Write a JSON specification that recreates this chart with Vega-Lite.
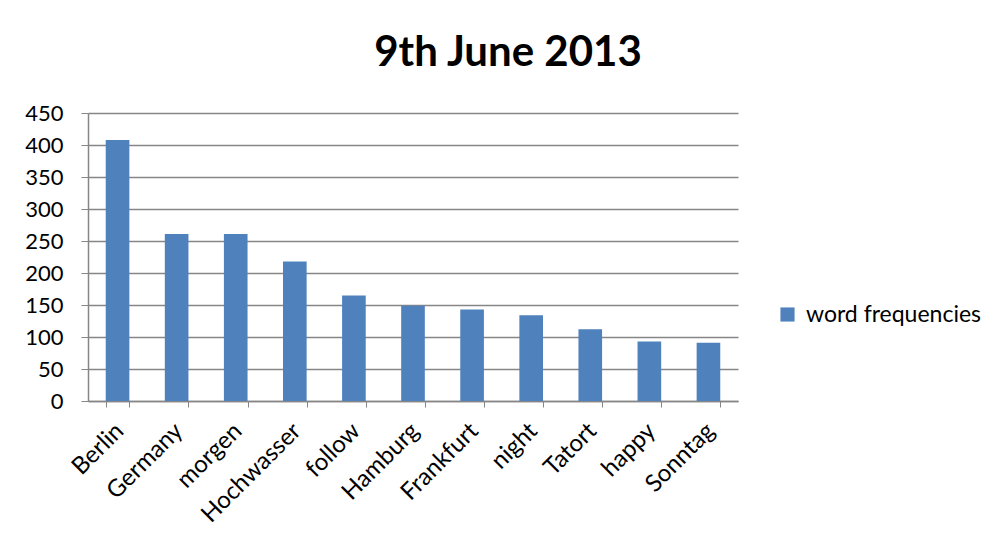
{
  "$schema": "https://vega.github.io/schema/vega-lite/v6.json",
  "autosize": "none",
  "width": 650,
  "height": 288,
  "padding": {"left": 88, "top": 113, "right": 259, "bottom": 141},
  "background": "white",
  "title": {
    "text": "9th June 2013",
    "font": "Lato",
    "fontSize": 42,
    "fontWeight": "bold",
    "color": "black",
    "anchor": "middle",
    "dx": 95,
    "offset": 27
  },
  "data": {
    "values": [
      {"word": "Berlin", "count": 408, "series": "word frequencies"},
      {"word": "Germany", "count": 261, "series": "word frequencies"},
      {"word": "morgen", "count": 261, "series": "word frequencies"},
      {"word": "Hochwasser", "count": 218, "series": "word frequencies"},
      {"word": "follow", "count": 165, "series": "word frequencies"},
      {"word": "Hamburg", "count": 149, "series": "word frequencies"},
      {"word": "Frankfurt", "count": 143, "series": "word frequencies"},
      {"word": "night", "count": 134, "series": "word frequencies"},
      {"word": "Tatort", "count": 112, "series": "word frequencies"},
      {"word": "happy", "count": 93, "series": "word frequencies"},
      {"word": "Sonntag", "count": 91, "series": "word frequencies"}
    ]
  },
  "mark": {"type": "bar"},
  "encoding": {
    "x": {
      "field": "word",
      "type": "nominal",
      "sort": null,
      "scale": {"paddingInner": 0.6, "paddingOuter": 0.3},
      "axis": {
        "title": null,
        "labelAngle": -45,
        "labelAlign": "right",
        "labelBaseline": "middle",
        "labelFont": "Lato",
        "labelFontSize": 24,
        "labelColor": "black",
        "labelPadding": 20,
        "labelOffset": 2,
        "tickBand": "extent",
        "tickColor": "#868686",
        "tickSize": 6,
        "domainColor": "#868686",
        "domainWidth": 1.5,
        "grid": false
      }
    },
    "y": {
      "field": "count",
      "type": "quantitative",
      "scale": {"domain": [0, 450], "nice": false},
      "axis": {
        "title": null,
        "values": [0, 50, 100, 150, 200, 250, 300, 350, 400, 450],
        "labelFont": "Lato",
        "labelFontSize": 22,
        "labelColor": "black",
        "labelPadding": 18,
        "tickColor": "#868686",
        "tickSize": 7,
        "domainColor": "#868686",
        "domainWidth": 1.5,
        "gridColor": "#868686",
        "gridWidth": 1.5
      }
    },
    "color": {
      "field": "series",
      "type": "nominal",
      "scale": {"range": ["#4F81BD"]},
      "legend": {
        "title": null,
        "orient": "none",
        "legendX": 688,
        "legendY": 190,
        "symbolType": "square",
        "symbolSize": 200,
        "symbolStrokeWidth": 0,
        "labelFont": "Lato",
        "labelFontSize": 23,
        "labelColor": "black",
        "labelOffset": 7,
        "labelLimit": 300
      }
    }
  },
  "config": {
    "view": {"stroke": null}
  }
}
